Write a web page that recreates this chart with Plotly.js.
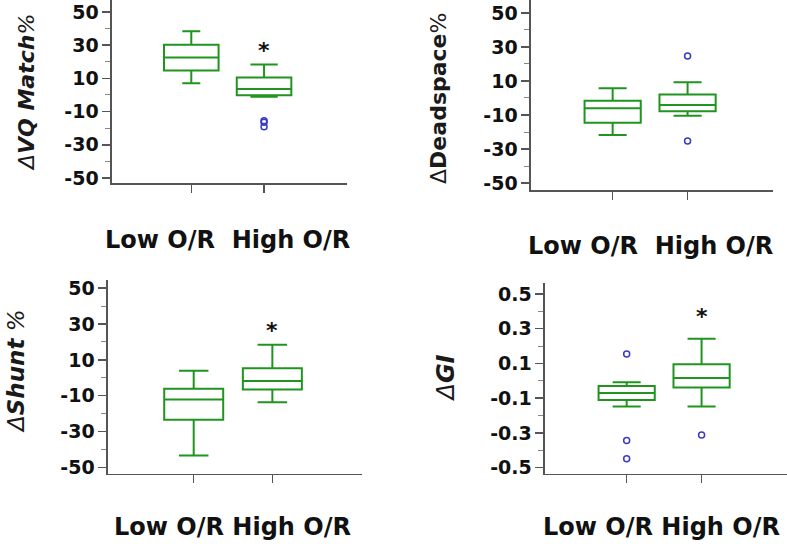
<!DOCTYPE html>
<html>
<head>
<meta charset="utf-8">
<script src="https://cdn.plot.ly/plotly-3.0.1.min.js"></script>
<style>html,body{margin:0;padding:0;background:#fff;}#chart{width:787px;height:544px;}</style>
</head>
<body>
<div id="chart"></div>
<script>
// ---- data ----
var categories = ['Low O/R', 'High O/R'];

var vqQ1 = [14.8, -0.2];
var vqMedian = [22.6, 3.6];
var vqQ3 = [30.2, 10.6];
var vqLower = [7.0, -1.0];
var vqUpper = [38.4, 18.4];
var vqOutLow = [];
var vqOutHigh = [-16.4, -15.5, -19.1];

var deadQ1 = [-14.5, -7.8];
var deadMedian = [-6.1, -4.1];
var deadQ3 = [-1.6, 2.0];
var deadLower = [-21.8, -10.4];
var deadUpper = [5.7, 9.2];
var deadOutLow = [];
var deadOutHigh = [24.7, -25.3];

var shuntQ1 = [-23.4, -6.6];
var shuntMedian = [-12.1, -1.8];
var shuntQ3 = [-6.1, 5.3];
var shuntLower = [-43.4, -13.6];
var shuntUpper = [4.0, 18.4];
var shuntOutLow = [];
var shuntOutHigh = [];

var giQ1 = [-0.110, -0.039];
var giMedian = [-0.070, 0.017];
var giQ3 = [-0.029, 0.096];
var giLower = [-0.148, -0.148];
var giUpper = [-0.008, 0.242];
var giOutLow = [0.155, -0.344, -0.448];
var giOutHigh = [-0.312];

var pctTicks = [50, 30, 10, -10, -30, -50];
var pctMinor = [40, 20, 0, -20, -40];
var giTicks = [0.5, 0.3, 0.1, -0.1, -0.3, -0.5];
var giTickText = ['0.5', '0.3', '0.1', '-0.1', '-0.3', '-0.5'];
var giMinor = [0.4, 0.2, 0.0, -0.2, -0.4];

// asterisk (significance) marker values on the High O/R group
var vqStar = 29.2;
var shuntStar = 28.4;
var giStar = 0.395;

// ---- style ----
var GREEN = '#1f951f';
var BLUE = '#3a3ac8';
var AX = '#555555';
var FONT = 'DejaVu Sans';

var traces = [];
function addPanel(xa, ya, q1, med, q3, lo, hi, outLow, outHigh, whiskers) {
  for (var i = 0; i < categories.length; i++) {
    traces.push({
      type: 'box', xaxis: xa, yaxis: ya,
      x: [categories[i]], q1: [q1[i]], median: [med[i]], q3: [q3[i]],
      lowerfence: [lo[i]], upperfence: [hi[i]],
      width: 0.75, whiskerwidth: whiskers[i],
      line: { color: GREEN, width: 2 }, fillcolor: 'rgba(0,0,0,0)',
      boxpoints: false, showlegend: false, hoverinfo: 'skip'
    });
  }
  var ox = [], oy = [];
  outLow.forEach(function (v) { ox.push(categories[0]); oy.push(v); });
  outHigh.forEach(function (v) { ox.push(categories[1]); oy.push(v); });
  if (oy.length) {
    traces.push({
      type: 'scatter', mode: 'markers', xaxis: xa, yaxis: ya, x: ox, y: oy,
      marker: { symbol: 'circle-open', size: 6, color: BLUE, line: { width: 1.5, color: BLUE } },
      showlegend: false, hoverinfo: 'skip'
    });
  }
}
addPanel('x', 'y', vqQ1, vqMedian, vqQ3, vqLower, vqUpper, vqOutLow, vqOutHigh, [0.33, 0.5]);
addPanel('x2', 'y2', deadQ1, deadMedian, deadQ3, deadLower, deadUpper, deadOutLow, deadOutHigh, [0.5, 0.5]);
addPanel('x3', 'y3', shuntQ1, shuntMedian, shuntQ3, shuntLower, shuntUpper, shuntOutLow, shuntOutHigh, [0.5, 0.5]);
addPanel('x4', 'y4', giQ1, giMedian, giQ3, giLower, giUpper, giOutLow, giOutHigh, [0.5, 0.5]);

function xAxis(dom, anchor) {
  return {
    domain: dom, anchor: anchor, type: 'category', categoryorder: 'array', categoryarray: categories,
    range: [-1.09, 2.14], showline: true, linecolor: AX, linewidth: 1.5,
    ticks: 'outside', ticklen: 8, tickwidth: 1.5, tickcolor: AX,
    showticklabels: false, showgrid: false, zeroline: false, fixedrange: true
  };
}
function yAxis(dom, anchor, range, tv, tt, minor) {
  return {
    domain: dom, anchor: anchor, range: range, showline: true, linecolor: AX, linewidth: 1.5,
    ticks: 'outside', ticklen: 8, tickwidth: 1.5, tickcolor: AX,
    tickmode: 'array', tickvals: tv, ticktext: tt,
    minor: { tickmode: 'array', tickvals: minor, ticks: 'outside', ticklen: 5, tickwidth: 1, tickcolor: '#888', showgrid: false },
    tickfont: { family: FONT, size: 19, color: '#111', weight: 'bold' },
    showgrid: false, zeroline: false, fixedrange: true
  };
}

var pctText = pctTicks.map(String);

var labelFont = { family: FONT, size: 24, color: '#111', weight: 'bold' };
var titleFont = { family: FONT, size: 22, color: '#1a1a1a' };
var starFont = { family: FONT, size: 22, color: '#111', weight: 'bold' };

var layout = {
  width: 787, height: 544, margin: { l: 0, r: 0, t: 0, b: 0 },
  paper_bgcolor: '#fff', plot_bgcolor: 'rgba(0,0,0,0)', showlegend: false,
  xaxis: xAxis([0.1423, 0.4409], 'y'),
  yaxis: yAxis([0.6636, 1.0], 'x', [-53.0, 57.2], pctTicks, pctText, pctMinor),
  xaxis2: xAxis([0.6747, 0.9822], 'y2'),
  yaxis2: yAxis([0.6507, 1.0], 'x2', [-54.1, 57.6], pctTicks, pctText, pctMinor),
  xaxis3: xAxis([0.1372, 0.4600], 'y3'),
  yaxis3: yAxis([0.1287, 0.4853], 'x3', [-53.7, 54.6], pctTicks, pctText, pctMinor),
  xaxis4: xAxis([0.6925, 1.0], 'y4'),
  yaxis4: yAxis([0.1287, 0.4798], 'x4', [-0.536, 0.563], giTicks, giTickText, giMinor),
  annotations: [
    { xref: 'paper', yref: 'paper', x: 0.0343, y: 0.8309, textangle: -90, showarrow: false,
      text: '<i>Δ<b>VQ Match</b>%</i>', font: titleFont, xanchor: 'center', yanchor: 'middle' },
    { xref: 'paper', yref: 'paper', x: 0.5578, y: 0.8199, textangle: -90, showarrow: false,
      text: 'Δ<b>Deadspace</b>%', font: titleFont, xanchor: 'center', yanchor: 'middle' },
    { xref: 'paper', yref: 'paper', x: 0.0203, y: 0.318, textangle: -90, showarrow: false,
      text: '<i>Δ<b>Shunt</b> %</i>', font: { family: FONT, size: 23, color: '#1a1a1a' }, xanchor: 'center', yanchor: 'middle' },
    { xref: 'paper', yref: 'paper', x: 0.5667, y: 0.306, textangle: -90, showarrow: false,
      text: '<i>Δ<b>GI</b></i>', font: { family: FONT, size: 24, color: '#1a1a1a' }, xanchor: 'center', yanchor: 'middle' },

    { xref: 'paper', yref: 'paper', x: 0.2897, y: 0.5588, showarrow: false,
      text: 'Low O/R  High O/R', font: labelFont, xanchor: 'center', yanchor: 'middle' },
    { xref: 'paper', yref: 'paper', x: 0.826, y: 0.5478, showarrow: false,
      text: 'Low O/R  High O/R', font: labelFont, xanchor: 'center', yanchor: 'middle' },
    { xref: 'paper', yref: 'paper', x: 0.296, y: 0.03125, showarrow: false,
      text: 'Low O/R High O/R', font: labelFont, xanchor: 'center', yanchor: 'middle' },
    { xref: 'paper', yref: 'paper', x: 0.841, y: 0.031, showarrow: false,
      text: 'Low O/R High O/R', font: labelFont, xanchor: 'center', yanchor: 'middle' },

    { xref: 'x', yref: 'y', x: categories[1], y: vqStar, text: '*', showarrow: false, font: starFont, yanchor: 'middle', yshift: -4 },
    { xref: 'x3', yref: 'y3', x: categories[1], y: shuntStar, text: '*', showarrow: false, font: starFont, yanchor: 'middle', yshift: -4 },
    { xref: 'x4', yref: 'y4', x: categories[1], y: giStar, text: '*', showarrow: false, font: starFont, yanchor: 'middle', yshift: -4 }
  ]
};

Plotly.newPlot('chart', traces, layout, { staticPlot: true, displayModeBar: false });
</script>
</body>
</html>
